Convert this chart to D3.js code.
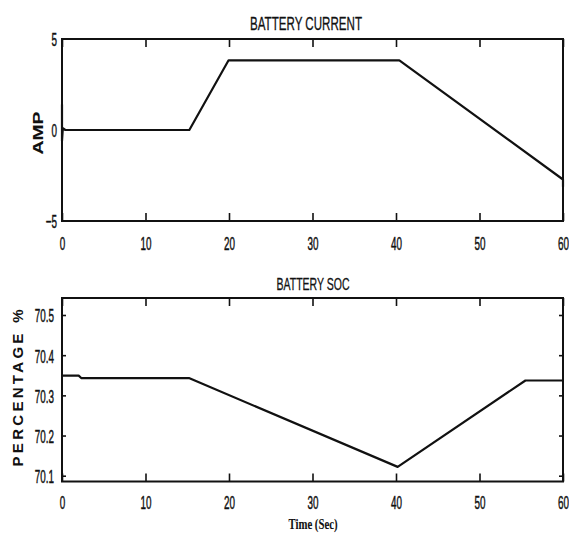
<!DOCTYPE html>
<html>
<head>
<meta charset="utf-8">
<script src="https://cdn.jsdelivr.net/npm/d3@7"></script>
<style>
  body { margin: 0; background: #fff; }
  .tick text { font-family: "Liberation Sans", Arial, sans-serif; fill: #111; stroke: #111; stroke-width: 0.5; }
  .domain { display: none; }
  .tick line { stroke: #111; stroke-width: 1.6; }
</style>
</head>
<body>
<svg id="chart" width="569" height="543"></svg>
<script>
// battery current (A) vs time (s)
const timeCurrent = [0, 0, 0.1, 0.4, 15.25, 19.95, 40.4, 60, 60];
const current = [1.4, -0.6, 0.1, 0, 0, 3.83, 3.83, -2.72, -3.12];

// battery state of charge (%) vs time (s)
const timeSoc = [0, 2.0, 2.3, 15.2, 40.2, 55.5, 60];
const soc = [70.349, 70.349, 70.343, 70.343, 70.122, 70.337, 70.337];

const xTicks = [0, 10, 20, 30, 40, 50, 60];
const currentTicks = [-5, 0, 5];
const socTicks = [70.1, 70.2, 70.3, 70.4, 70.5];

let svg = d3.select("svg#chart");
const left = 62, right = 563;
const sx = 0.52; // horizontal squeeze of the tick labels
const tickFont = 19;

let x = d3.scaleLinear().domain([0, 60]).range([left, right]);
let yTop = d3.scaleLinear().domain([-5, 5]).range([221, 39]);
let yBot = d3.scaleLinear().domain([70.0856, 70.5423]).range([481.5, 298]);

function squeezeX(g) {
  g.selectAll(".tick text")
    .attr("transform", "scale(" + sx + ",1)")
    .attr("font-size", tickFont);
}

function squeezeY(g, gap) {
  g.selectAll(".tick text")
    .attr("transform", "scale(" + sx + ",1)")
    .attr("x", -gap / sx)
    .attr("dy", "0.36em")
    .attr("font-size", tickFont);
}

function drawPanel(yScale, yTicks, fmt, yTickLen, labelPad, times, vals) {
  let top = yScale.range()[1], bottom = yScale.range()[0];

  // x ticks on bottom (with labels) and top edge, pointing inward
  svg.append("g")
    .attr("transform", "translate(0," + bottom + ")")
    .call(d3.axisBottom(x).tickValues(xTicks).tickSizeInner(-8).tickSizeOuter(0).tickPadding(labelPad))
    .call(squeezeX);
  svg.append("g")
    .attr("transform", "translate(0," + top + ")")
    .call(d3.axisTop(x).tickValues(xTicks).tickSizeInner(-8).tickSizeOuter(0).tickFormat(""));

  // y ticks
  svg.append("g")
    .attr("transform", "translate(" + left + ",0)")
    .call(d3.axisLeft(yScale).tickValues(yTicks).tickSizeInner(-yTickLen).tickSizeOuter(0).tickFormat(fmt))
    .call(g => squeezeY(g, yTickLen > 0 ? 8 : 5));
  if (yTickLen > 0) {
    svg.append("g")
      .attr("transform", "translate(" + right + ",0)")
      .call(d3.axisRight(yScale).tickValues(yTicks).tickSizeInner(-yTickLen).tickSizeOuter(0).tickFormat(""));
  }

  // frame
  svg.append("rect")
    .attr("x", left).attr("y", top)
    .attr("width", right - left).attr("height", bottom - top)
    .attr("fill", "none")
    .attr("stroke", "#111")
    .attr("stroke-width", 2);

  // data
  let line = d3.line().x(d => x(d[0])).y(d => yScale(d[1]));
  svg.append("path")
    .datum(d3.zip(times, vals))
    .attr("d", line)
    .attr("fill", "none")
    .attr("stroke", "#111")
    .attr("stroke-width", 2.2)
    .attr("stroke-linejoin", "round");
}

drawPanel(yTop, currentTicks, d3.format("d"), 0, 16, timeCurrent, current);
drawPanel(yBot, socTicks, d3.format(".1f"), 4, 14, timeSoc, soc);

// titles and axis labels
function label(txt, px, py, size, len, opts) {
  let t = svg.append("text")
    .attr("x", px).attr("y", py)
    .attr("text-anchor", "middle")
    .attr("font-size", size)
    .attr("font-family", opts.family || "'Liberation Sans', Arial, sans-serif")
    .attr("font-weight", opts.weight || "normal")
    .attr("fill", "#111")
    .attr("stroke", "#111")
    .attr("stroke-width", opts.stroke || 0.3)
    .attr("textLength", len)
    .attr("lengthAdjust", opts.adjust || "spacingAndGlyphs")
    .text(txt);
  if (opts.rotate) t.attr("transform", "rotate(-90," + px + "," + py + ")");
  return t;
}

label("BATTERY CURRENT", 306, 30, 18, 112, {});
label("BATTERY SOC", 313, 290, 17, 73, {});
label("AMP", 43, 133, 15, 43, {rotate: true, weight: "bold", stroke: 0.1});
label("PERCENTAGE %", 23, 388, 15, 157, {rotate: true, weight: "bold", stroke: 0.01, adjust: "spacing"});
label("Time (Sec)", 313, 529, 15, 49, {weight: "bold", stroke: 0.1, family: "'Liberation Serif', 'Times New Roman', serif"});
</script>
</body>
</html>
